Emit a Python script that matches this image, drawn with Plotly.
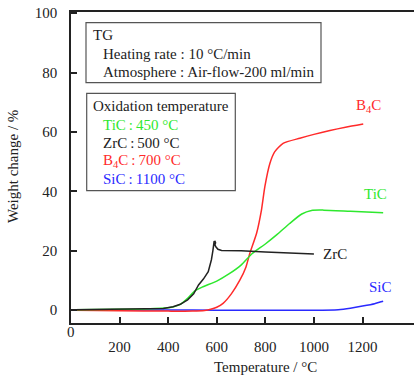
import plotly.graph_objects as go

# ---- data ----
sic_x = [15, 200, 400, 600, 800, 1000, 1100, 1150, 1200, 1250, 1285]
sic_y = [0.1, 0.1, 0.1, 0.0, 0.0, 0.0, 0.2, 0.7, 1.4, 2.2, 3.0]

b4c_x = [15, 200, 400, 500, 550, 575, 600, 626, 660, 695, 720, 736, 764, 784, 798, 819, 839, 873, 942, 1000, 1066, 1130, 1203]
b4c_y = [0.0, -0.2, -0.3, -0.3, -0.1, 0.3, 1.0, 2.3, 5.5, 10.1, 14.5, 19.1, 25.9, 33.7, 41.6, 49.5, 53.4, 56.2, 57.9, 59.2, 60.5, 61.6, 62.7]

tic_x = [15, 200, 300, 400, 450, 480, 510, 540, 600, 650, 700, 745, 800, 850, 900, 950, 990, 1040, 1150, 1285]
tic_y = [0.2, 0.3, 0.4, 0.8, 2.0, 4.0, 6.5, 7.8, 9.8, 12.2, 15.2, 19.0, 22.3, 25.6, 29.2, 32.4, 33.6, 33.7, 33.3, 32.8]

zrc_x = [15, 200, 300, 380, 420, 450, 480, 505, 525, 545, 565, 578, 584, 586, 589, 593, 595, 594, 591, 592, 597, 605, 620, 700, 800, 1000]
zrc_y = [0.2, 0.3, 0.4, 0.6, 1.2, 2.0, 3.5, 5.5, 8.5, 10.5, 13.0, 17.0, 20.0, 22.2, 23.1, 23.2, 22.8, 22.3, 22.2, 22.0, 21.3, 20.5, 20.1, 20.0, 19.6, 18.9]

x_ticks = [200, 400, 600, 800, 1000, 1200]
y_ticks = [0, 20, 40, 60, 80, 100]

GREEN = "#2ee82e"
RED = "#ff2a2a"
BLUE = "#2a2aff"
BLACK = "#222222"
FONT = "Liberation Serif"
FS = 15
TS = "\u2009"  # thin space

L, T, W, H = 71, 12, 414, 376
B = 53
PW, PH = W - L, H - T - B

fig = go.Figure()
for xs, ys, c, sh in [(sic_x, sic_y, BLUE, "spline"), (b4c_x, b4c_y, RED, "spline"),
                      (tic_x, tic_y, GREEN, "spline"), (zrc_x, zrc_y, BLACK, "linear")]:
    line = dict(color=c, width=1.5, shape=sh)
    if sh == "spline":
        line["smoothing"] = 0.6
    fig.add_trace(go.Scatter(x=xs, y=ys, mode="lines", line=line, showlegend=False, hoverinfo="skip"))

fig.update_layout(
    width=W, height=H,
    margin=dict(l=L, r=0, t=T, b=B, autoexpand=False),
    paper_bgcolor="white", plot_bgcolor="white",
    font=dict(family=FONT, size=FS, color=BLACK),
    showlegend=False,
)
fig.update_xaxes(
    range=[0, 1412], tickvals=x_ticks, ticks="inside", ticklen=6, tickwidth=1.5, tickcolor=BLACK,
    showline=True, linecolor=BLACK, linewidth=1.5, mirror=True, showgrid=False, zeroline=False,
    ticklabelstandoff=9, tickfont=dict(size=FS), automargin=False,
)
fig.update_yaxes(
    range=[-4.3, 100.4], tickvals=y_ticks, ticks="inside", ticklen=6, tickwidth=1.5, tickcolor=BLACK,
    showline=True, linecolor=BLACK, linewidth=1.5, showgrid=False, zeroline=False,
    ticklabelstandoff=9, tickfont=dict(size=FS), automargin=False,
)

def px(x):
    return (x - L) / PW

def py(y):
    return (H - B - y) / PH

# origin "0" label on the x axis
fig.add_annotation(xref="paper", yref="paper", x=px(71), y=py(332), text="0", showarrow=False,
                   xanchor="center", yanchor="middle", font=dict(size=FS, color=BLACK))

# axis titles
fig.add_annotation(xref="paper", yref="paper", x=px(265), y=py(367), text="Temperature / °C", showarrow=False,
                   xanchor="center", yanchor="middle", font=dict(size=FS, color=BLACK))
fig.add_annotation(xref="paper", yref="paper", x=px(13), y=py(167), text="Weight change / %", showarrow=False,
                   xanchor="center", yanchor="middle", textangle=-90, font=dict(size=FS, color=BLACK))

# info boxes
fig.add_shape(type="rect", xref="paper", yref="paper", x0=px(86), x1=px(321), y0=py(82.7), y1=py(22.7),
              line=dict(color="#555555", width=1.2))
fig.add_shape(type="rect", xref="paper", yref="paper", x0=px(86.7), x1=px(235.3), y0=py(190.7), y1=py(93.3),
              line=dict(color="#555555", width=1.2))

def txt(x, y, s, color=BLACK, anchor="left"):
    fig.add_annotation(xref="paper", yref="paper", x=px(x), y=py(y), text=s, borderpad=0,
                       showarrow=False, xanchor=anchor, yanchor="middle", font=dict(size=FS, color=color))

txt(92, 35, "TG")
txt(102, 53.5, "Heating rate : 10 °C/min")
txt(102, 71.5, "Atmosphere : Air-flow-200 ml/min")
txt(92, 106, "Oxidation temperature")
txt(102, 124.5, f"TiC{TS}:{TS}450 °C", GREEN)
txt(102, 142.5, f"ZrC{TS}:{TS}500 °C", BLACK)
txt(102, 160.5, f"B<sub>4</sub>C{TS}:{TS}700 °C", RED)
txt(102, 179, f"SiC{TS}:{TS}1100 °C", BLUE)

# curve labels
txt(355, 106, "B<sub>4</sub>C", RED)
txt(363, 194, "TiC", GREEN)
txt(322, 254, "ZrC", BLACK)
txt(368, 287, "SiC", BLUE)

fig.write_html("out.html", config={"displayModeBar": False},
               post_script="document.body.style.margin='0';document.body.style.overflow='hidden';")
